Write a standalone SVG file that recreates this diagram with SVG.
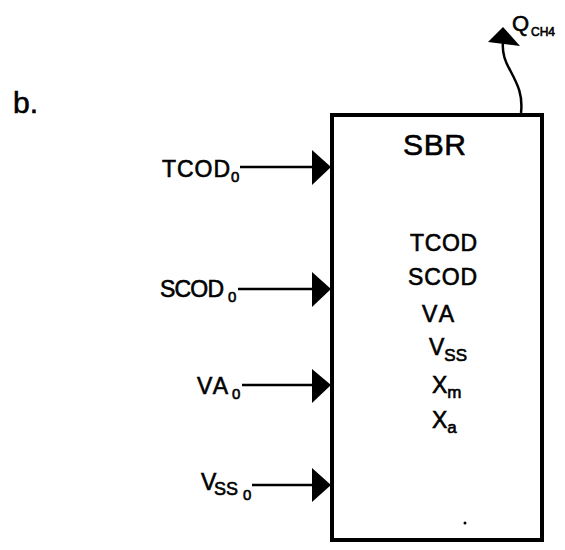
<svg xmlns="http://www.w3.org/2000/svg" width="565" height="550" viewBox="0 0 565 550">
<style>
text{font-family:"Liberation Sans",Arial,sans-serif;fill:#000;stroke:#000;stroke-width:0.6}
.lbl{font-size:23px}
.in{font-size:23px}
.sub{font-size:15px}
.line{stroke:#000;stroke-width:2.5;fill:none}
.head{fill:#000;stroke:none}
</style>
<rect width="565" height="550" fill="#fff"/>
<text x="13" y="113" style="font-size:30px">b.</text>
<g id="sbr">
<rect x="332" y="115" width="210" height="425" fill="none" stroke="#000" stroke-width="4"/>
<text x="403" y="155" style="font-size:30px" textLength="63">SBR</text>
<text class="in" x="410" y="251" textLength="67">TCOD</text>
<text class="in" x="408" y="285" textLength="69">SCOD</text>
<text class="in" x="422" y="322" textLength="32">VA</text>
<text class="in" x="429" y="355">V<tspan dy="6" style="font-size:17px">SS</tspan></text>
<text class="in" x="432" y="393">X<tspan dy="5" style="font-size:17px">m</tspan></text>
<text class="in" x="432" y="428">X<tspan dy="5" style="font-size:17px">a</tspan></text>
<circle cx="465" cy="523" r="1.5" fill="#000"/>
</g>
<g id="in-tcod">
<text class="lbl" x="162" y="177" textLength="68">TCOD</text>
<text class="sub" x="231" y="182">0</text>
</g>
<g id="in-scod">
<text class="lbl" x="160" y="297" textLength="64">SCOD</text>
<text class="sub" x="228" y="302">0</text>
</g>
<g id="in-va">
<text class="lbl" x="197" y="394" textLength="31">VA</text>
<text class="sub" x="232" y="399">0</text>
</g>
<g id="in-vss">
<text class="lbl" x="201" y="490">V</text>
<text x="214" y="495" style="font-size:18px">SS</text>
<text class="sub" x="243" y="500">0</text>
</g>
<g id="out-q">
<text x="512" y="31" style="font-size:22px">Q</text>
<text x="531" y="36" style="font-size:12px">CH4</text>
</g>
<g id="connectors">
<line class="line" x1="240" y1="167" x2="314" y2="167"/>
<polygon class="head" points="312,150 331,167 312,185"/>
<line class="line" x1="238" y1="289" x2="314" y2="289"/>
<polygon class="head" points="312,272 331,289 312,307"/>
<line class="line" x1="242" y1="385" x2="314" y2="385"/>
<polygon class="head" points="312,369 331,385 312,403"/>
<line class="line" x1="252" y1="485" x2="314" y2="485"/>
<polygon class="head" points="312,468 331,485 312,502"/>
<path class="line" d="M521,113 C523,95 518,85 510,70 C504,60 502,52 503,42"/>
<polygon class="head" points="503,27 488,42 520,46"/>
</g>
</svg>
